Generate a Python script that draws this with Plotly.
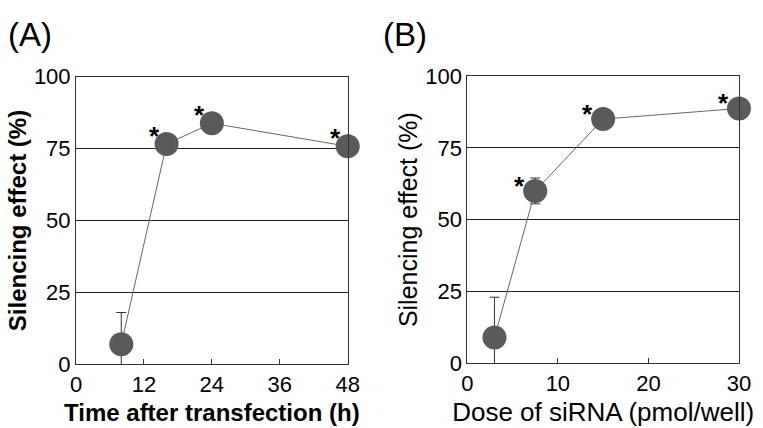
import plotly.graph_objects as go

# Panel A: time course
time_h = [8, 16, 24, 48]
effect_a = [7, 76.6, 83.8, 75.8]
err_a = [11, 0, 0, 0]
sig_a = [False, True, True, True]
ticks_a = [0, 12, 24, 36, 48]

# Panel B: dose response
dose = [3, 7.5, 15, 30]
effect_b = [9, 60, 85, 88.7]
err_b = [14, 4.5, 0, 0]
sig_b = [False, True, True, True]
ticks_b = [0, 10, 20, 30]

yticks = [0, 25, 50, 75, 100]

FONT = "Arial, Liberation Sans, sans-serif"
MK = "#5a5a5a"
LINE = "#333333"
W, H = 763, 428

fig = go.Figure()

def add_series(x, y, err, xa, ya):
    fig.add_trace(go.Scatter(
        x=x, y=y, mode="lines+markers", xaxis=xa, yaxis=ya,
        line=dict(color="#666666", width=1),
        marker=dict(size=24, color=MK, line=dict(width=0)),
        error_y=dict(type="data", array=err, symmetric=True, visible=True,
                     color=LINE, thickness=1, width=5),
        cliponaxis=False, showlegend=False))

add_series(time_h, effect_a, err_a, "x", "y")
add_series(dose, effect_b, err_b, "x2", "y2")

annotations = []
for x, y, s in zip(time_h, effect_a, sig_a):
    if s:
        annotations.append(dict(x=x, y=y, xref="x", yref="y", text="<b>*</b>",
                                showarrow=False, xshift=-12, yshift=8,
                                font=dict(family=FONT, size=26, color="black")))
for x, y, s in zip(dose, effect_b, sig_b):
    if s:
        annotations.append(dict(x=x, y=y, xref="x2", yref="y2", text="<b>*</b>",
                                showarrow=False, xshift=-16, yshift=5,
                                font=dict(family=FONT, size=26, color="black")))

annotations.append(dict(x=6 / W, y=(H - 35) / H, xref="paper", yref="paper", text="(A)",
                        showarrow=False, xanchor="left", yanchor="middle",
                        font=dict(family=FONT, size=33, color="black")))
annotations.append(dict(x=381 / W, y=(H - 35) / H, xref="paper", yref="paper", text="(B)",
                        showarrow=False, xanchor="left", yanchor="middle",
                        font=dict(family=FONT, size=33, color="black")))

axis_common = dict(showline=True, mirror=True, linecolor=LINE, linewidth=1,
                   tickfont=dict(family=FONT, size=22, color="black"),
                   zeroline=False, automargin=False)

fig.update_layout(
    width=W, height=H, margin=dict(l=0, r=0, t=0, b=0),
    paper_bgcolor="white", plot_bgcolor="white",
    font=dict(family=FONT, color="black"),
    annotations=annotations,
    xaxis=dict(domain=[76 / W, 347.7 / W], range=[0, 48], tickvals=ticks_a,
               ticks="inside", ticklen=5, tickcolor=LINE, showgrid=False,
               anchor="y",
               title=dict(text="<b>Time after transfection (h)</b>", standoff=8,
                          font=dict(family=FONT, size=24, color="black")),
               **axis_common),
    yaxis=dict(domain=[63.7 / H, 351.3 / H], range=[0, 100], tickvals=yticks,
               ticks="", showgrid=True, gridcolor="#222222", gridwidth=1,
               anchor="x",
               title=dict(text="<b>Silencing effect (%)</b>", standoff=0,
                          font=dict(family=FONT, size=24, color="black")),
               **axis_common),
    xaxis2=dict(domain=[467.3 / W, 739 / W], range=[0, 30], tickvals=ticks_b,
                ticks="inside", ticklen=5, tickcolor=LINE, showgrid=False,
                anchor="y2",
                title=dict(text="Dose of siRNA (pmol/well)", standoff=8,
                           font=dict(family=FONT, size=26, color="black")),
                **axis_common),
    yaxis2=dict(domain=[64.7 / H, 352 / H], range=[0, 100], tickvals=yticks,
                ticks="", showgrid=True, gridcolor="#222222", gridwidth=1,
                anchor="x2",
                title=dict(text="Silencing effect (%)", standoff=0,
                           font=dict(family=FONT, size=25, color="black")),
                **axis_common),
)

fig.write_html("out.html", config={"displayModeBar": False},
               post_script="document.body.style.margin='0';")
